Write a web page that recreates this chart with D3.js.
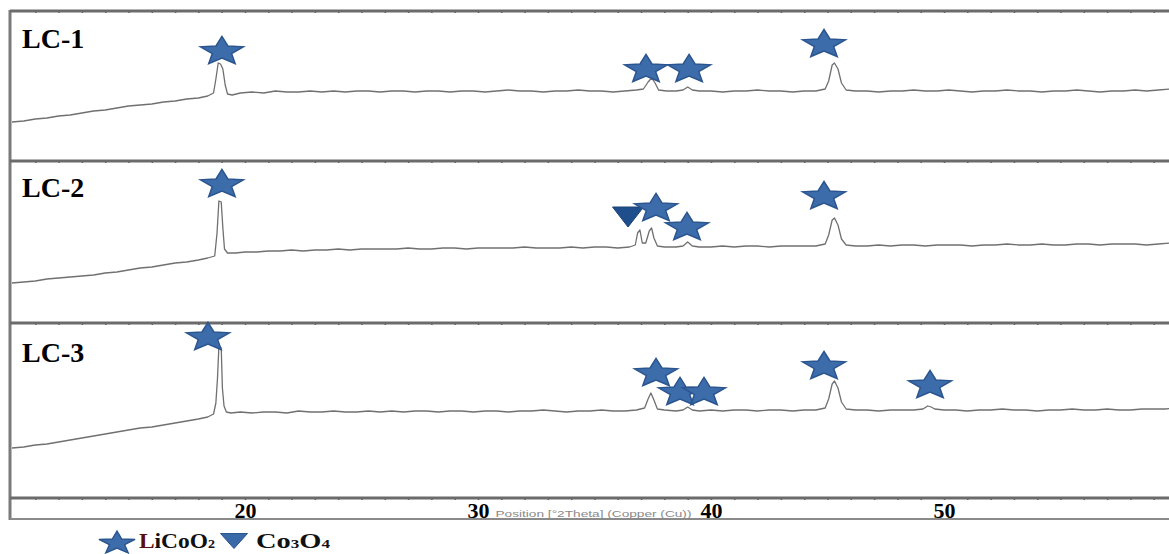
<!DOCTYPE html>
<html>
<head>
<meta charset="utf-8">
<script src="https://cdn.jsdelivr.net/npm/d3@7"></script>
<style>
  html, body { margin: 0; padding: 0; background: #fff; }
  svg { display: block; }
  .panel-label, .tick-label, .legend-text { font-family: "Liberation Serif", "Times New Roman", serif; font-weight: bold; }
</style>
</head>
<body>
<div id="chart"></div>
<script>
// Sample names, one per stacked panel
const samples = ['LC-1', 'LC-2', 'LC-3'];

// Diffraction traces: [2theta, intensity (a.u.)]
const lc1 = [
  [10, 39], [10.5, 40], [11, 42], [11.5, 43], [12, 45], [12.5, 46], [13, 48], [13.5, 50], [14, 51], [14.5, 53],
  [15, 55], [15.5, 56], [16, 57], [16.5, 59], [17, 60], [17.5, 62], [18, 63], [18.4, 65],
  [18.65, 68], [18.75, 82], [18.85, 98], [18.95, 97], [19.05, 92], [19.15, 76], [19.25, 67], [19.45, 66],
  [19.8, 68], [20.3, 69], [20.8, 68], [21.3, 70], [21.8, 69], [22.3, 69], [22.8, 70], [23.3, 69], [23.8, 70],
  [24.3, 69], [24.8, 70], [25.3, 70], [25.8, 69], [26.3, 70], [26.8, 70], [27.3, 69], [27.8, 70], [28.3, 70],
  [28.8, 69], [29.3, 70], [29.8, 70], [30.3, 69], [30.8, 70], [31.3, 71], [31.8, 70], [32.3, 70], [32.8, 69],
  [33.3, 70], [33.8, 70], [34.3, 71], [34.8, 70], [35.3, 70], [35.8, 69], [36.3, 70], [36.8, 71],
  [37.1, 72], [37.3, 79], [37.45, 83], [37.6, 78], [37.75, 71],
  [38.1, 70], [38.5, 70], [38.8, 71], [39.0, 74], [39.2, 71], [39.5, 70], [40, 70], [40.5, 69], [41, 70],
  [41.5, 70], [42, 71], [42.5, 70], [43, 70], [43.5, 69], [44, 70], [44.5, 70], [44.9, 72],
  [45.05, 80], [45.2, 96], [45.3, 98], [45.45, 92], [45.6, 78], [45.8, 71],
  [46.2, 70], [46.7, 70], [47.2, 69], [47.7, 70], [48.2, 70], [48.7, 71], [49.2, 70], [49.7, 70], [50.2, 71],
  [50.7, 70], [51.2, 69], [51.7, 70], [52.2, 70], [52.7, 71], [53.2, 70], [53.7, 70], [54.2, 69], [54.7, 70],
  [55.2, 70], [55.7, 71], [56.2, 70], [56.7, 69], [57.2, 70], [57.7, 70], [58.2, 71], [58.7, 70], [59.2, 71],
  [59.7, 72], [60.2, 72]
];

const lc2 = [
  [10, 40], [10.5, 41], [11, 42], [11.5, 44], [12, 45], [12.5, 46], [13, 47], [13.5, 48], [14, 50], [14.5, 51],
  [15, 53], [15.5, 55], [16, 56], [16.5, 58], [17, 60], [17.5, 61], [18, 63], [18.4, 65], [18.7, 67],
  [18.8, 90], [18.88, 122], [18.98, 121], [19.05, 95], [19.12, 74], [19.25, 70], [19.6, 70],
  [20, 71], [20.5, 71], [21, 72], [21.5, 72], [22, 73], [22.5, 72], [23, 73], [23.5, 73], [24, 74], [24.5, 73],
  [25, 74], [25.5, 74], [26, 74], [26.5, 74], [27, 75], [27.5, 74], [28, 74], [28.5, 75], [29, 75], [29.5, 74],
  [30, 75], [30.5, 75], [31, 75], [31.5, 75], [32, 76], [32.5, 75], [33, 75], [33.5, 75], [34, 76], [34.5, 75],
  [35, 76], [35.5, 76], [36, 75], [36.5, 76],
  [36.75, 78], [36.85, 90], [36.95, 93], [37.05, 80], [37.2, 80], [37.35, 92], [37.45, 95], [37.55, 85], [37.7, 77],
  [38, 76], [38.5, 76], [38.8, 77], [39.0, 81], [39.2, 77], [39.5, 76], [40, 76], [40.5, 77], [41, 76],
  [41.5, 77], [42, 77], [42.5, 76], [43, 77], [43.5, 77], [44, 77], [44.5, 77], [44.9, 79],
  [45.05, 88], [45.2, 103], [45.3, 105], [45.45, 98], [45.6, 84], [45.8, 78],
  [46.2, 77], [46.7, 77], [47.2, 78], [47.7, 77], [48.2, 78], [48.7, 78], [49.2, 77], [49.7, 78], [50.2, 78],
  [50.7, 78], [51.2, 77], [51.7, 78], [52.2, 78], [52.7, 79], [53.2, 78], [53.7, 78], [54.2, 79], [54.7, 78],
  [55.2, 78], [55.7, 79], [56.2, 79], [56.7, 78], [57.2, 79], [57.7, 79], [58.2, 79], [58.7, 78], [59.2, 79],
  [59.7, 80], [60.2, 80]
];

const lc3 = [
  [10, 50], [10.5, 51], [11, 53], [11.5, 54], [12, 56], [12.5, 58], [13, 60], [13.5, 62], [14, 64], [14.5, 66],
  [15, 68], [15.5, 70], [16, 71], [16.5, 73], [17, 75], [17.5, 77], [18, 79], [18.4, 81], [18.65, 84],
  [18.75, 95], [18.82, 120], [18.88, 152], [18.98, 150], [19.03, 110], [19.1, 92], [19.2, 86], [19.4, 85],
  [19.8, 86], [20.3, 85], [20.8, 86], [21.3, 86], [21.8, 85], [22.3, 87], [22.8, 86], [23.3, 86], [23.8, 87],
  [24.3, 86], [24.8, 86], [25.3, 87], [25.8, 86], [26.3, 87], [26.8, 86], [27.3, 87], [27.8, 87], [28.3, 86],
  [28.8, 87], [29.3, 87], [29.8, 86], [30.3, 87], [30.8, 87], [31.3, 86], [31.8, 87], [32.3, 87], [32.8, 88],
  [33.3, 87], [33.8, 86], [34.3, 87], [34.8, 87], [35.3, 88], [35.8, 87], [36.3, 87], [36.8, 88],
  [37.15, 90], [37.3, 99], [37.42, 105], [37.55, 98], [37.7, 89],
  [38, 88], [38.5, 87], [38.8, 88], [39.0, 91], [39.2, 88], [39.5, 87], [40, 88], [40.5, 87], [41, 88],
  [41.5, 88], [42, 87], [42.5, 88], [43, 88], [43.5, 87], [44, 88], [44.5, 88], [44.9, 90],
  [45.05, 99], [45.2, 114], [45.3, 117], [45.45, 110], [45.6, 96], [45.8, 89],
  [46.2, 88], [46.7, 88], [47.2, 87], [47.7, 88], [48.2, 88], [48.7, 88], [49.1, 89], [49.3, 92], [49.45, 91],
  [49.6, 89], [50, 88], [50.5, 88], [51, 87], [51.5, 88], [52, 88], [52.5, 89], [53, 88], [53.5, 88], [54, 87],
  [54.5, 88], [55, 88], [55.5, 89], [56, 88], [56.5, 88], [57, 89], [57.5, 88], [58, 88], [58.5, 89], [59, 89],
  [59.5, 89], [60, 90], [60.3, 90]
];

// Phase markers: [panel index, 2theta, marker level (a.u.)]
const licoo2Marks = [
  [0, 19.01, 111], [0, 37.21, 93], [0, 39.06, 93], [0, 44.85, 118],
  [1, 19.01, 140], [1, 37.64, 116], [1, 38.97, 97], [1, 44.85, 128],
  [2, 18.41, 162], [2, 37.64, 126], [2, 38.67, 107], [2, 39.70, 107], [2, 44.85, 133], [2, 49.40, 114]
];
const co3o4Marks = [
  [1, 36.44, 106]
];

const xTickLabels = [20, 30, 40, 50];
const axisTitle = 'Position [°2Theta] (Copper (Cu))';

const XrdChart = {
  width: 1169,
  height: 554,
  left: 10,
  // panel top/bottom edges in px
  bands: [[11, 161], [161, 323], [323, 498]],
  starFill: '#3d6cab',
  starStroke: '#2b558f',

  init() {
    this.svg = d3.select('#chart').append('svg')
      .attr('width', this.width)
      .attr('height', this.height);

    this.x = d3.scaleLinear().domain([10, 60]).range([12, 12 + 50 * 23.3]);

    this.svg.append('clipPath').attr('id', 'plot-clip')
      .append('rect')
      .attr('x', this.left).attr('y', 11)
      .attr('width', this.width - this.left).attr('height', 487);

    this.drawFrame();
    this.drawPanels([lc1, lc2, lc3]);
    this.drawMarkers();
    this.drawAxis();
    this.drawLegend();
  },

  yFor(i) {
    const [top, bottom] = this.bands[i];
    return d3.scaleLinear().domain([0, bottom - top]).range([bottom, top]);
  },

  starPath(rx, ry, inner) {
    const pts = [];
    for (let k = 0; k < 10; k++) {
      const r = k % 2 === 0 ? 1 : inner;
      const a = -Math.PI / 2 + k * Math.PI / 5;
      pts.push([Math.cos(a) * r * rx, Math.sin(a) * r * ry + 0.095 * ry]);
    }
    return 'M' + pts.map(p => p[0].toFixed(2) + ',' + p[1].toFixed(2)).join('L') + 'Z';
  },

  trianglePath(w, h) {
    return `M${-w / 2},${-h / 2}L${w / 2},${-h / 2}L0,${h / 2}Z`;
  },

  drawFrame() {
    const g = this.svg.append('g');
    // left border
    g.append('line')
      .attr('x1', this.left).attr('x2', this.left)
      .attr('y1', 10).attr('y2', 520)
      .attr('stroke', '#7a7a7a').attr('stroke-width', 3);
    // bottom border under tick labels
    g.append('line')
      .attr('x1', this.left).attr('x2', this.width)
      .attr('y1', 519).attr('y2', 519)
      .attr('stroke', '#8a8a8a').attr('stroke-width', 2);

    // panel separators with minor ticks every degree
    const tickAxis = d3.axisBottom(this.x)
      .tickValues(d3.range(11, 61, 1))
      .tickSize(3)
      .tickFormat('');

    [11, 161, 323, 498].forEach(yPos => {
      const a = g.append('g')
        .attr('transform', `translate(0,${yPos - 1})`)
        .call(tickAxis);
      a.select('.domain').remove();
      a.selectAll('line').attr('stroke', '#555').attr('stroke-width', 1.5);
      g.append('line')
        .attr('x1', this.left).attr('x2', this.width)
        .attr('y1', yPos).attr('y2', yPos)
        .attr('stroke', '#6b6b6b').attr('stroke-width', 3);
    });
  },

  drawPanels(traces) {
    const g = this.svg.append('g').attr('clip-path', 'url(#plot-clip)');

    traces.forEach((trace, i) => {
      const y = this.yFor(i);
      const line = d3.line()
        .x(d => this.x(d[0]))
        .y(d => y(d[1]));

      g.append('path')
        .datum(trace)
        .attr('d', line)
        .attr('fill', 'none')
        .attr('stroke', '#707070')
        .attr('stroke-width', 1.3)
        .attr('stroke-linejoin', 'round');
    });

    const labelY = [48, 197, 362];
    samples.forEach((name, i) => {
      this.svg.append('text')
        .attr('class', 'panel-label')
        .attr('x', 22)
        .attr('y', labelY[i])
        .attr('font-size', 28)
        .attr('fill', '#000')
        .text(name);
    });
  },

  drawMarkers() {
    const g = this.svg.append('g');

    g.selectAll('.co3o4')
      .data(co3o4Marks)
      .join('path')
      .attr('class', 'co3o4')
      .attr('d', this.trianglePath(31, 20))
      .attr('transform', d => `translate(${this.x(d[1])},${this.yFor(d[0])(d[2])})`)
      .attr('fill', '#1f4e8c')
      .attr('stroke', '#1a4275')
      .attr('stroke-width', 1);

    const star = this.starPath(22.5, 15, 0.45);
    g.selectAll('.licoo2')
      .data(licoo2Marks)
      .join('path')
      .attr('class', 'licoo2')
      .attr('d', star)
      .attr('transform', d => `translate(${this.x(d[1])},${this.yFor(d[0])(d[2])})`)
      .attr('fill', this.starFill)
      .attr('stroke', this.starStroke)
      .attr('stroke-width', 1.5);
  },

  drawAxis() {
    const axis = d3.axisBottom(this.x)
      .tickValues(xTickLabels)
      .tickSize(0)
      .tickPadding(0)
      .tickFormat(d3.format('d'));

    const a = this.svg.append('g')
      .attr('transform', 'translate(0,498)')
      .call(axis);
    a.select('.domain').remove();
    a.selectAll('text')
      .attr('class', 'tick-label')
      .attr('y', 20)
      .attr('dy', 0)
      .attr('font-size', 22)
      .attr('fill', '#000');

    // faint axis title, kept between the 30 and 40 labels
    this.svg.append('text')
      .attr('x', this.x(30.75))
      .attr('y', 517)
      .attr('font-family', 'Arial, sans-serif')
      .attr('font-size', 9)
      .attr('fill', '#8a8a8a')
      .attr('textLength', 196)
      .attr('lengthAdjust', 'spacingAndGlyphs')
      .text(axisTitle);
  },

  drawLegend() {
    const g = this.svg.append('g').attr('transform', 'translate(0,542)');

    g.append('path')
      .attr('d', this.starPath(19, 12, 0.42))
      .attr('transform', 'translate(117,0)')
      .attr('fill', this.starFill)
      .attr('stroke', this.starStroke)
      .attr('stroke-width', 1.5);

    const t1 = g.append('text')
      .attr('class', 'legend-text')
      .attr('x', 139).attr('y', 6)
      .attr('font-size', 20)
      .attr('textLength', 76)
      .attr('lengthAdjust', 'spacingAndGlyphs')
      .attr('fill', '#111');
    t1.append('tspan').attr('fill', '#5a0f0f').text('L');
    t1.append('tspan').text('iCoO');
    t1.append('tspan').attr('font-size', 12).text('2');

    g.append('path')
      .attr('d', this.trianglePath(27, 15))
      .attr('transform', 'translate(234,-1)')
      .attr('fill', '#3a69a8')
      .attr('stroke', this.starStroke)
      .attr('stroke-width', 1);

    const t2 = g.append('text')
      .attr('class', 'legend-text')
      .attr('x', 256).attr('y', 6)
      .attr('font-size', 20)
      .attr('textLength', 74)
      .attr('lengthAdjust', 'spacingAndGlyphs')
      .attr('fill', '#111');
    t2.append('tspan').text('Co');
    t2.append('tspan').attr('font-size', 12).text('3');
    t2.append('tspan').text('O');
    t2.append('tspan').attr('font-size', 12).text('4');
  }
};

XrdChart.init();
</script>
</body>
</html>
